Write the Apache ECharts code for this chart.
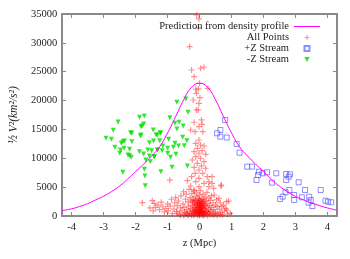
<!DOCTYPE html>
<html><head><meta charset="utf-8">
<script src="https://cdn.jsdelivr.net/npm/echarts@6/dist/echarts.min.js"></script>
<style>html,body{margin:0;padding:0;background:#fff}#c{width:350px;height:259px}</style>
</head><body><div id="c"></div>
<script>
const xTicks = [-4,-3,-2,-1,0,1,2,3,4];
const curveZ = [-4.3,-4.0,-3.75,-3.5,-3.25,-3.0,-2.75,-2.5,-2.25,-2.0,-1.75,-1.5,-1.25,-1.0,-0.75,-0.5,-0.25,0,0.25,0.5,0.75,1.0,1.25,1.5,1.75,2.0,2.25,2.5,2.75,3.0,3.25,3.5,3.75,4.0,4.3];
const curveV = [950,1250,1650,2150,2800,3450,4250,5200,6400,7700,9000,10400,12000,14400,17200,20100,22300,23000,22300,20100,17200,14400,12000,10400,9000,7700,6300,5150,4200,3400,2800,2250,1800,1400,1000];

const allPoints = [
[-0.09,34830],[-0.02,34140],[-0.04,32640],[-0.31,29340],[-0.25,25300],[0.03,25600],[0.14,25770],[-0.17,24140],[0.0,23000],[-0.12,21960],[-0.04,22010],[-0.10,21260],[0.01,20500],[-0.20,20100],[-0.02,19530],[0.26,22130],
[-0.10,18370],[-0.04,18370],[0.06,16640],[-0.17,16240],[-0.28,14900],[0.08,15890],[-0.02,15480],[-0.14,14610],[0.10,14610],[-0.02,13170],[-0.12,12600],[0.03,12300],[0.14,12130],[-0.07,11730],[-0.17,11140],[0.08,11320],[-0.02,10870],[0.19,10690],[-0.12,10280],[0.03,10000],[-0.23,9700],[0.14,9410],[-0.07,9130],[0.06,8670],[-0.17,8440],[0.19,8270],[-0.02,7970],[-0.14,7400],[0.10,7400],[-0.25,6810],[-0.02,6530],[0.24,6810],[-0.38,6120],[-0.12,5940],[0.14,5670],[0.29,5940],[0.68,5370],[-0.28,5200],[-0.02,5080],[0.44,4800],[-0.17,4510],[0.39,6810],[0.29,5080],[-0.93,6200],[0.67,5200],[0.39,5670],
[-1.79,2310],[-1.48,2650],[-1.42,2200],[-1.38,1500],[-1.45,900],[-1.55,1400],[-1.30,1900],[-1.25,1100],[-1.20,2400],[-1.15,1600],[-1.10,700],[-1.05,1300],[-1.00,2100],[-0.98,900],[-0.92,1700],[-0.88,2900],[-0.85,400],[-0.80,1200],[-0.78,2300],[-0.75,3200],[-0.72,800],[-0.70,1800],[-0.66,2600],[-0.63,300],[-0.60,1400],[-0.58,3500],[-0.55,900],[-0.52,2100],[-0.50,4200],[-0.48,1500],[-0.46,600],[-0.44,2900],[-0.42,3800],[-0.40,1100],[-0.38,200],[-0.36,2400],[-0.34,1700],[-0.33,4600],[-0.31,800],[-0.30,3200],[-0.28,1300],[-0.27,2600],[-0.25,400],[-0.24,3900],[-0.22,1900],[-0.21,900],[-0.20,2900],[-0.19,150],[-0.18,4300],[-0.17,1500],[-0.16,2300],[-0.15,600],[-0.14,3400],[-0.13,1100],[-0.12,2700],[-0.11,300],[-0.10,1800],[-0.09,4000],[-0.08,900],[-0.07,2200],[-0.06,100],[-0.05,3100],[-0.04,1400],[-0.03,600],[-0.02,2500],[-0.01,1900],[0.00,300],[0.00,3600],[0.01,1200],[0.02,4400],[0.03,700],[0.04,2100],[0.05,1600],[0.06,200],[0.07,3000],[0.08,1000],[0.09,2400],[0.10,500],[0.11,3800],[0.12,1700],[0.13,100],[0.14,2800],[0.15,1300],[0.16,600],[0.17,3300],[0.18,2000],[0.19,900],[0.20,250],[0.21,2600],[0.22,1500],[0.23,4100],[0.25,800],[0.26,2200],[0.28,1200],[0.29,3100],[0.30,400],[0.32,1800],[0.34,2700],[0.35,900],[0.37,3500],[0.38,1500],[0.40,300],[0.42,2300],[0.44,1100],[0.46,3640],[0.48,700],[0.50,1900],[0.53,2800],[0.55,1610],[0.57,400],[0.60,3070],[0.62,1200],[0.65,2300],[0.67,600],[0.70,1610],[0.72,200],[0.75,1900],[0.78,900],[0.82,1300],[0.85,2480],[0.85,1040],[0.88,300],[0.91,2600],[0.96,470],
[-0.5,100],[-0.45,300],[-0.4,500],[-0.35,150],[-0.3,350],[-0.25,100],[-0.2,500],[-0.15,250],[-0.1,700],[-0.05,400],[0,100],[0.05,600],[0.1,150],[0.15,350],[0.2,700],[0.25,100],[0.3,600],[0.35,250],[0.45,150],[0.5,450],[0.55,100],[0.65,250],[-0.6,150],[-0.7,500],[0.02,1000],[-0.02,800],
[-0.14,2000],[-0.12,1000],[-0.1,1400],[-0.08,2600],[-0.06,1700],[-0.04,2000],[-0.03,1100],[-0.01,2900],[0.01,700],[0.02,1600],[0.03,2300],[0.04,1300],[0.05,2700],[0.06,900],[0.07,1900],[0.08,1400],[0.09,600],[0.1,2100],[0.12,1200],[0.13,2500],[0.14,400],[0.16,1800],[-0.16,800],[-0.18,2700],[-0.2,1200],[-0.22,2400],[-0.05,500],[0.0,1500],[0.0,2200],[0.0,700],[-0.01,300],[0.01,2500]
];

const plusStream = [
[0.55,14330],[0.65,14900],[0.65,13750],[0.80,16640],[0.85,13600],[1.16,12480],[1.25,10970],[1.49,8550],[1.64,8550],[1.86,7680],[1.83,7100],[1.78,6240],[1.97,7400],[2.11,7570],[2.40,7400],[2.27,5770],[2.71,7280],[2.83,7220],[2.79,6810],[2.71,6240],[3.10,5840],[3.30,4510],[2.69,4100],[2.81,4510],[2.96,3640],[3.20,3240],[2.60,3350],[2.52,2950],[2.96,2770],[3.43,3350],[3.48,2770],[3.41,2310],[3.53,1730],[3.79,4510],[3.94,2650],[4.02,2480],[4.12,2370]
];

const minusStream = [
[-2.55,16290],[-1.88,17100],[-1.73,17330],[-1.75,15940],[-1.80,15600],[-1.83,15480],[-2.70,14850],[-2.16,14440],[-2.12,14330],[-1.45,14900],[-2.93,13460],[-2.76,13290],[-2.35,13000],[-2.40,12880],[-2.45,12600],[-1.83,14040],[-1.85,13860],[-1.32,14040],[-1.23,14440],[-2.12,12880],[-1.57,12700],[-1.44,13000],[-2.65,11900],[-2.36,11730],[-2.47,11440],[-2.19,11560],[-1.62,11440],[-1.50,11320],[-1.32,11440],[-2.50,10870],[-1.88,11140],[-1.75,10740],[-2.24,10570],[-2.19,10450],[-2.14,10170],[-1.57,10400],[-1.42,10280],[-1.68,9700],[-1.54,9410],[-2.40,7570],[-1.73,8090],[-1.71,6930],[-1.70,5250],[-1.21,7680],
[-0.71,19700],[-0.43,20280],[-0.36,17970],[-0.93,17040],[-0.77,16060],[-0.64,16240],[-0.71,15080],[-0.51,15600],[-1.36,14040],[-1.22,14330],[-1.25,13050],[-0.97,13290],[-0.53,13640],[-0.40,13050],[-0.77,12600],[-0.48,12180],[-1.15,12130],[-1.31,11440],[-1.00,11730],[-0.82,11900],[-0.66,12130],[-1.17,11320],[-1.00,10870],[-0.74,10690],[-0.91,10170],[-1.41,10280],[-0.86,8440],[-0.38,8670]
];

const serif = 'Liberation Serif';
const axisCol = '#8a8a8a';
const txtCol = '#222';
const plus = 'path://M4,0H6V4H10V6H6V10H4V6H0V4H4Z';
const square = 'path://M0,0H10V10H0Z';
const tri = 'path://M0,0H10L5,9Z';
const lineIcon = 'path://M0,0H26V1H0Z';

const chart = echarts.init(document.getElementById('c'), null, {renderer:'canvas'});
const xCommon = {
  type:'value', min:-4.3, max:4.3,
  axisLine:{show:true, onZero:false, lineStyle:{color:axisCol, width:2}},
  axisTick:{show:true, inside:true, length:4, customValues:xTicks, lineStyle:{color:axisCol, width:1}},
  splitLine:{show:false}
};
const yCommon = {
  type:'value', min:0, max:35000, interval:5000,
  axisLine:{show:true, onZero:false, lineStyle:{color:axisCol, width:2}},
  axisTick:{show:true, inside:true, length:4, lineStyle:{color:axisCol, width:1}},
  splitLine:{show:false}
};
chart.setOption({
  animation:false,
  backgroundColor:'#fff',
  grid:{left:58, right:13, top:14, bottom:43, containLabel:false},
  xAxis:[
    Object.assign({}, xCommon, {position:'bottom',
      axisLabel:{show:true, customValues:xTicks, margin:6, fontFamily:serif, fontSize:10.5, color:txtCol,
        formatter:v=>String(Math.round(v))},
      name:'z (Mpc)', nameLocation:'middle', nameGap:22,
      nameTextStyle:{fontFamily:serif, fontSize:10.5, color:txtCol}
    }),
    Object.assign({}, xCommon, {position:'top', axisLabel:{show:false}})
  ],
  yAxis:[
    Object.assign({}, yCommon, {position:'left',
      axisLabel:{show:true, margin:5, fontFamily:serif, fontSize:10.5, color:txtCol, formatter:v=>String(v)},
      name:'½ V²(km²/s²)', nameLocation:'middle', nameGap:42,
      nameTextStyle:{fontFamily:serif, fontSize:11.5, color:txtCol, fontStyle:'italic'}
    }),
    Object.assign({}, yCommon, {position:'right', axisLabel:{show:false}})
  ],
  legend:{
    orient:'vertical', right:25, top:16, align:'right',
    itemWidth:26, itemHeight:5, itemGap:0, symbolKeepAspect:true,
    textStyle:{fontFamily:serif, fontSize:10.5, color:txtCol, lineHeight:9.6, padding:[0,0,0,0]},
    data:[
      {name:'Prediction from density profile', icon:lineIcon},
      {name:'All Points', icon:plus},
      {name:'+Z Stream', icon:square},
      {name:'-Z Stream', icon:tri}
    ]
  },
  series:[
    {name:'All Points', type:'scatter', data:allPoints, symbol:plus, symbolSize:6,
      itemStyle:{color:'rgba(255,0,0,0.55)'}, z:2},
    {name:'+Z Stream', type:'scatter', data:plusStream, symbol:square, symbolSize:5,
      itemStyle:{color:'rgba(255,255,255,0)', borderColor:'rgba(90,90,255,0.85)', borderWidth:1}, z:3},
    {name:'-Z Stream', type:'scatter', data:minusStream, symbol:tri, symbolSize:5,
      itemStyle:{color:'#00e000'}, z:3},
    {name:'Prediction from density profile', type:'line', data:curveZ.map((z,i)=>[z,curveV[i]]),
      smooth:true, symbol:'none', showSymbol:false, lineStyle:{color:'#ff00ff', width:1}, itemStyle:{color:'#ff00ff'}, z:4}
  ]
});
</script></body></html>
